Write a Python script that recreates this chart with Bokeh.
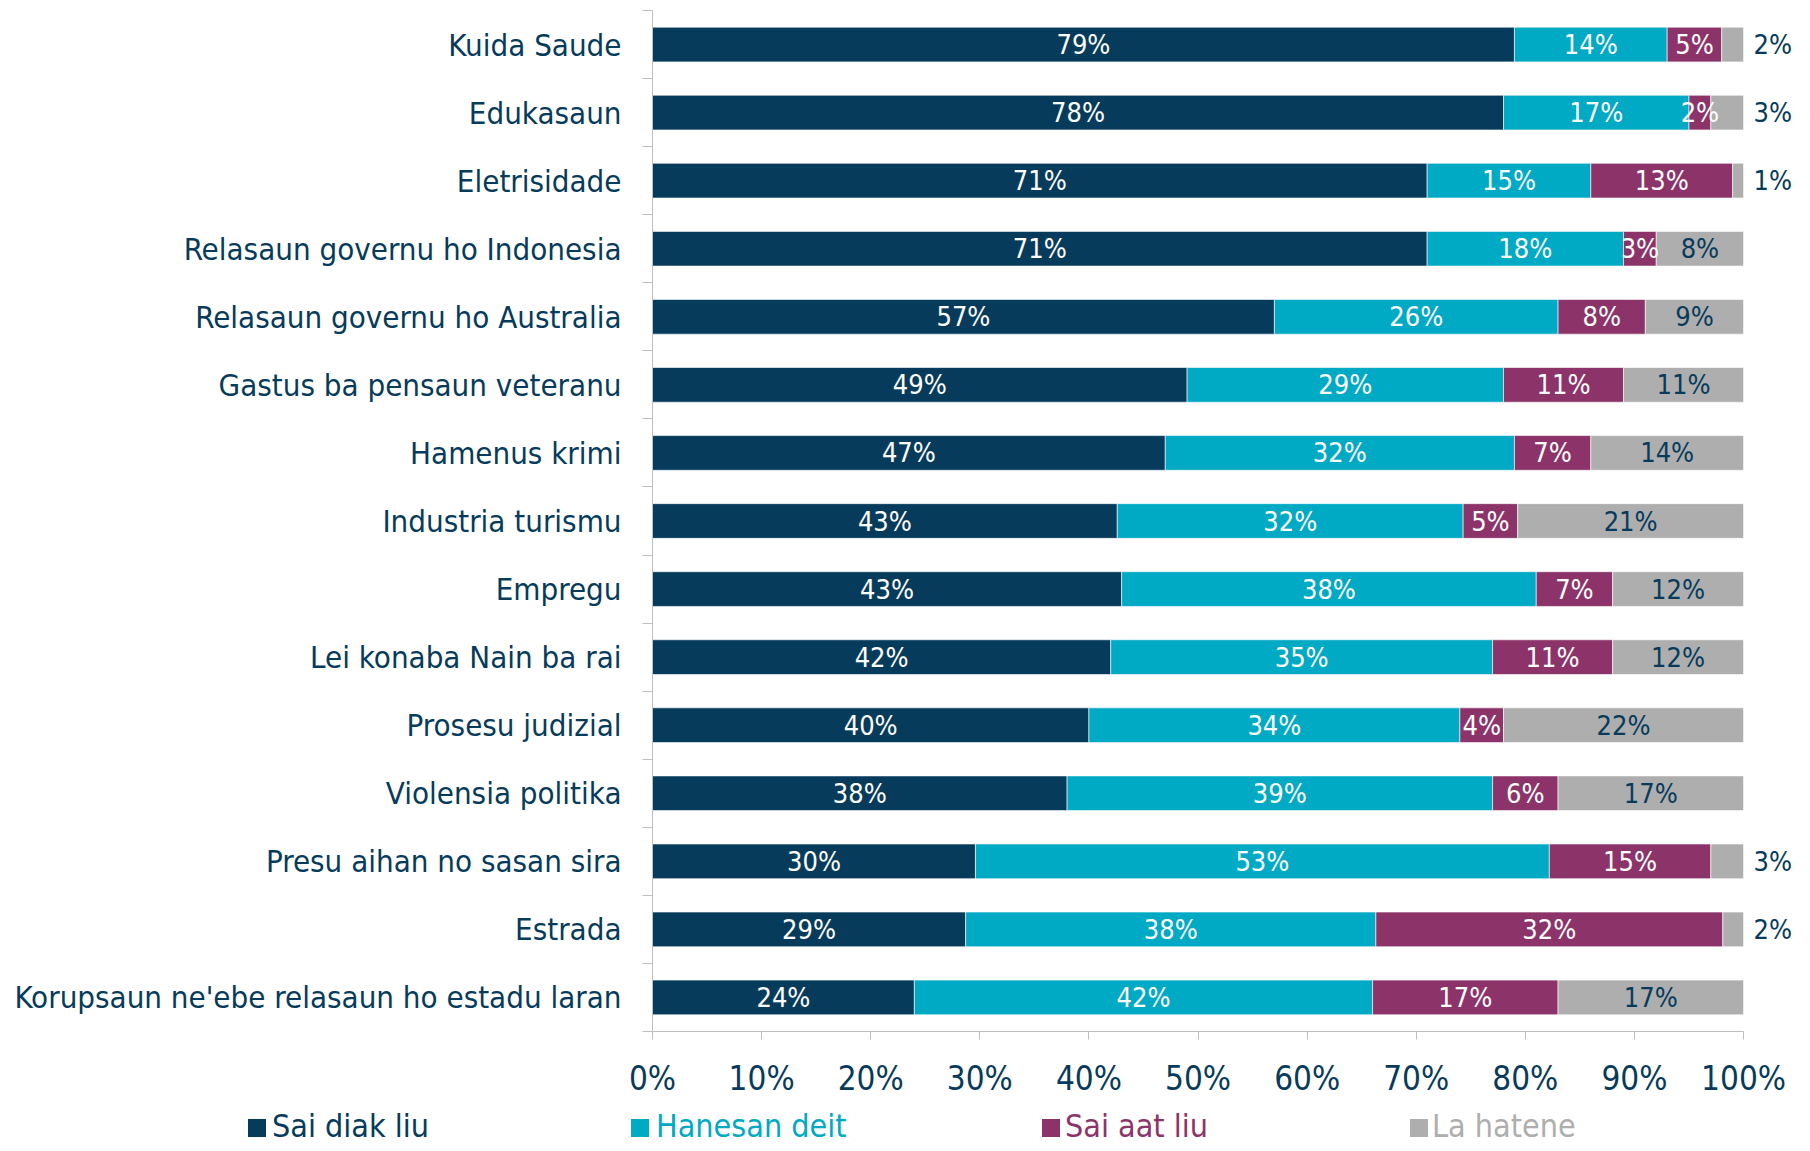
from bokeh.plotting import figure
from bokeh.layouts import column
from bokeh.models import (ColumnDataSource, Range1d, FixedTicker, PrintfTickFormatter, Div)
from bokeh.core.properties import value
from bokeh.embed import file_html
from bokeh.resources import INLINE

# ---- data (top row first) ----
categories = [
    "Kuida Saude", "Edukasaun", "Eletrisidade", "Relasaun governu ho Indonesia",
    "Relasaun governu ho Australia", "Gastus ba pensaun veteranu", "Hamenus krimi",
    "Industria turismu", "Empregu", "Lei konaba Nain ba rai", "Prosesu judizial",
    "Violensia politika", "Presu aihan no sasan sira", "Estrada",
    "Korupsaun ne'ebe relasaun ho estadu laran",
]
sai_diak_liu = [79, 78, 71, 71, 57, 49, 47, 42.6, 43, 42, 40, 38, 29.6, 28.7, 24]
hanesan_deit = [14, 17, 15, 18, 26, 29, 32, 31.7, 38, 35, 34, 39, 52.6, 37.6, 42]
sai_aat_liu = [5, 2, 13, 3, 8, 11, 7, 5.0, 7, 11, 4, 6, 14.8, 31.8, 17]
la_hatene = [2, 3, 1, 8, 9, 11, 14, 20.7, 12, 12, 22, 17, 3.0, 1.9, 17]

series_names = ["Sai diak liu", "Hanesan deit", "Sai aat liu", "La hatene"]
series_keys = ["a", "b", "c", "d"]
colors = ["#073B5B", "#00A9C4", "#8C3469", "#AEAEAE"]
navy = "#073B5B"
FONT = "DejaVu Sans Condensed"

n = len(categories)
ys = [n - 1 - i for i in range(n)]

src = ColumnDataSource(dict(y=ys, a=sai_diak_liu, b=hanesan_deit, c=sai_aat_liu, d=la_hatene))

p = figure(width=1794, height=1100, output_backend="svg", toolbar_location=None,
           x_range=Range1d(0, 104.67), y_range=Range1d(-0.5, n - 0.5),
           min_border_left=652, min_border_right=0, min_border_top=10, min_border_bottom=69)
p.outline_line_color = None
p.xgrid.visible = False
p.ygrid.visible = False

rends = p.hbar_stack(series_keys, y="y", height=0.51, color=colors, line_color="white",
                     line_width=1, line_alpha=0.6, source=src)

# ---- segment labels ----
ix, iy, it, ic = [], [], [], []
ox, oy, ot = [], [], []
for i in range(n):
    vals = [sai_diak_liu[i], hanesan_deit[i], sai_aat_liu[i], la_hatene[i]]
    left = 0
    for k, v in enumerate(vals):
        txt = f"{v:.0f}%"
        if k == 3 and v <= 3.05:
            ox.append(left + v); oy.append(ys[i]); ot.append(txt)
        else:
            ix.append(left + v / 2); iy.append(ys[i]); it.append(txt)
            ic.append("white" if k < 3 else navy)
        left += v

inside = ColumnDataSource(dict(x=ix, y=iy, t=it, c=ic))
outside = ColumnDataSource(dict(x=ox, y=oy, t=ot))
p.text(x="x", y="y", text="t", source=inside, text_color="c", text_align="center",
       text_baseline="middle", text_font=value(FONT), text_font_size="27px")
p.text(x="x", y="y", text="t", source=outside, text_color=navy, text_align="left",
       text_baseline="middle", x_offset=10, text_font=value(FONT), text_font_size="27px")

# ---- axes ----
xa = p.xaxis[0]
xa.ticker = FixedTicker(ticks=list(range(0, 101, 10)))
xa.formatter = PrintfTickFormatter(format="%d%%")
xa.bounds = (0, 100)
xa.axis_line_color = "#BFBFBF"
xa.major_tick_line_color = "#BFBFBF"
xa.major_tick_out = 8
xa.major_tick_in = 0
xa.minor_tick_line_color = None
xa.major_label_text_font = FONT
xa.major_label_text_font_size = "33px"
xa.major_label_text_color = navy
xa.major_label_standoff = 19

ya = p.yaxis[0]
ya.ticker = FixedTicker(ticks=ys, minor_ticks=[v - 0.5 for v in range(n + 1)])
ya.major_label_overrides = {ys[i]: categories[i] for i in range(n)}
ya.axis_line_color = "#BFBFBF"
ya.major_tick_line_color = None
ya.major_tick_out = 0
ya.major_tick_in = 0
ya.minor_tick_line_color = "#BFBFBF"
ya.minor_tick_out = 10
ya.minor_tick_in = 0
ya.major_label_text_font = FONT
ya.major_label_text_font_size = "31px"
ya.major_label_text_color = navy
ya.major_label_standoff = 21

# ---- legend strip (HTML, each label in its series colour) ----
marker_left = [248, 631, 1042, 1410]
label_left = [272, 656, 1065, 1432]
parts = []
for name, col, ml, tl in zip(series_names, colors, marker_left, label_left):
    parts.append(
        f'<span style="position:absolute;left:{ml}px;top:19px;width:18px;height:18px;'
        f'background:{col};"></span>'
        f'<span style="position:absolute;left:{tl}px;top:10px;line-height:32px;'
        f"font-family:'{FONT}';font-size:32px;color:{col};white-space:nowrap;\">{name}</span>"
    )
legend_div = Div(text='<div style="position:relative;width:1794px;height:43px;">'
                      + "".join(parts) + "</div>",
                 width=1794, height=43, margin=0)

layout = column(p, legend_div, spacing=0)
open("out.html", "w").write(file_html(layout, INLINE))
